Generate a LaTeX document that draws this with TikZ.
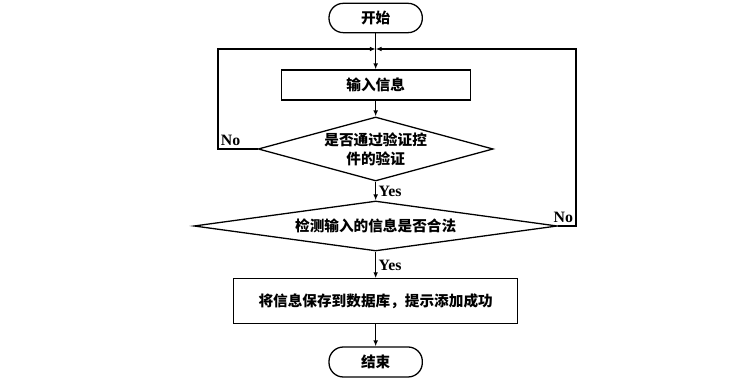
\documentclass[tikz,border=0pt]{standalone}
\usepackage{fontspec}
\setmainfont{Liberation Serif}
\newfontfamily\cjk{Noto Sans CJK SC}
\usetikzlibrary{shapes.geometric,arrows.meta,calc}
\tikzset{
  flowline/.style={line width=1.1pt},
  flowarrow/.style={flowline,-{Latex[length=5pt,width=4pt]}},
  cjkfont/.style={font=\cjk\bfseries\fontsize{12.5}{16}\selectfont},
  terminal/.style={draw,flowline,cjkfont,rounded corners=0.43cm,minimum width=2.8cm,minimum height=0.88cm},
  procbox/.style={draw,flowline,cjkfont,minimum height=0.9cm},
  decision/.style={draw,flowline,cjkfont,diamond,inner sep=0pt,align=center},
  yesno/.style={font=\bfseries\fontsize{13.5}{15}\selectfont,inner sep=2pt}
}
\begin{document}
\begin{tikzpicture}
        \useasboundingbox (0,0) rectangle (22.65,11.64);
        \node[terminal] (start) at (11.27,11.1) {开始};
        \coordinate (merge) at (11.27,10.17);
        \coordinate (leftturn) at (6.54,10.17);
        \coordinate (rightturn) at (17.28,10.17);
        \node[procbox,minimum width=5.67cm] (input) at (11.27,9.09) {输入信息};
        \node[decision,minimum width=7.05cm,minimum height=1.92cm,aspect=3.6] (check1) at (11.27,7.17) {是否通过验证控\\件的验证};
        \node[decision,minimum width=10.9cm,minimum height=1.5cm,aspect=7.2] (check2) at (11.27,4.86) {检测输入的信息是否合法};
        \node[procbox,minimum width=8.52cm,minimum height=1.35cm] (save) at (11.27,2.6) {将信息保存到数据库，提示添加成功};
        \node[terminal,minimum height=0.9cm] (end) at (11.27,0.78) {结束};
        \draw[flowline] (start) -- (merge);
        \draw[flowarrow] (merge) -- (input);
        \draw[flowarrow] (input) -- (check1);
        \draw[flowarrow] (check1) -- node[yesno,right] {Yes} (check2);
        \draw[flowarrow] (check2) -- node[yesno,right] {Yes} (save);
        \draw[flowarrow] (save) -- (end);
        \draw[flowarrow] (check1.west) -| node[yesno,above right,pos=0.5] {No} (leftturn) -- (merge);
        \draw[flowarrow] (check2.east) -| node[yesno,above left,pos=0.5] {No} (rightturn) -- (merge);
      \end{tikzpicture}
\end{document}
